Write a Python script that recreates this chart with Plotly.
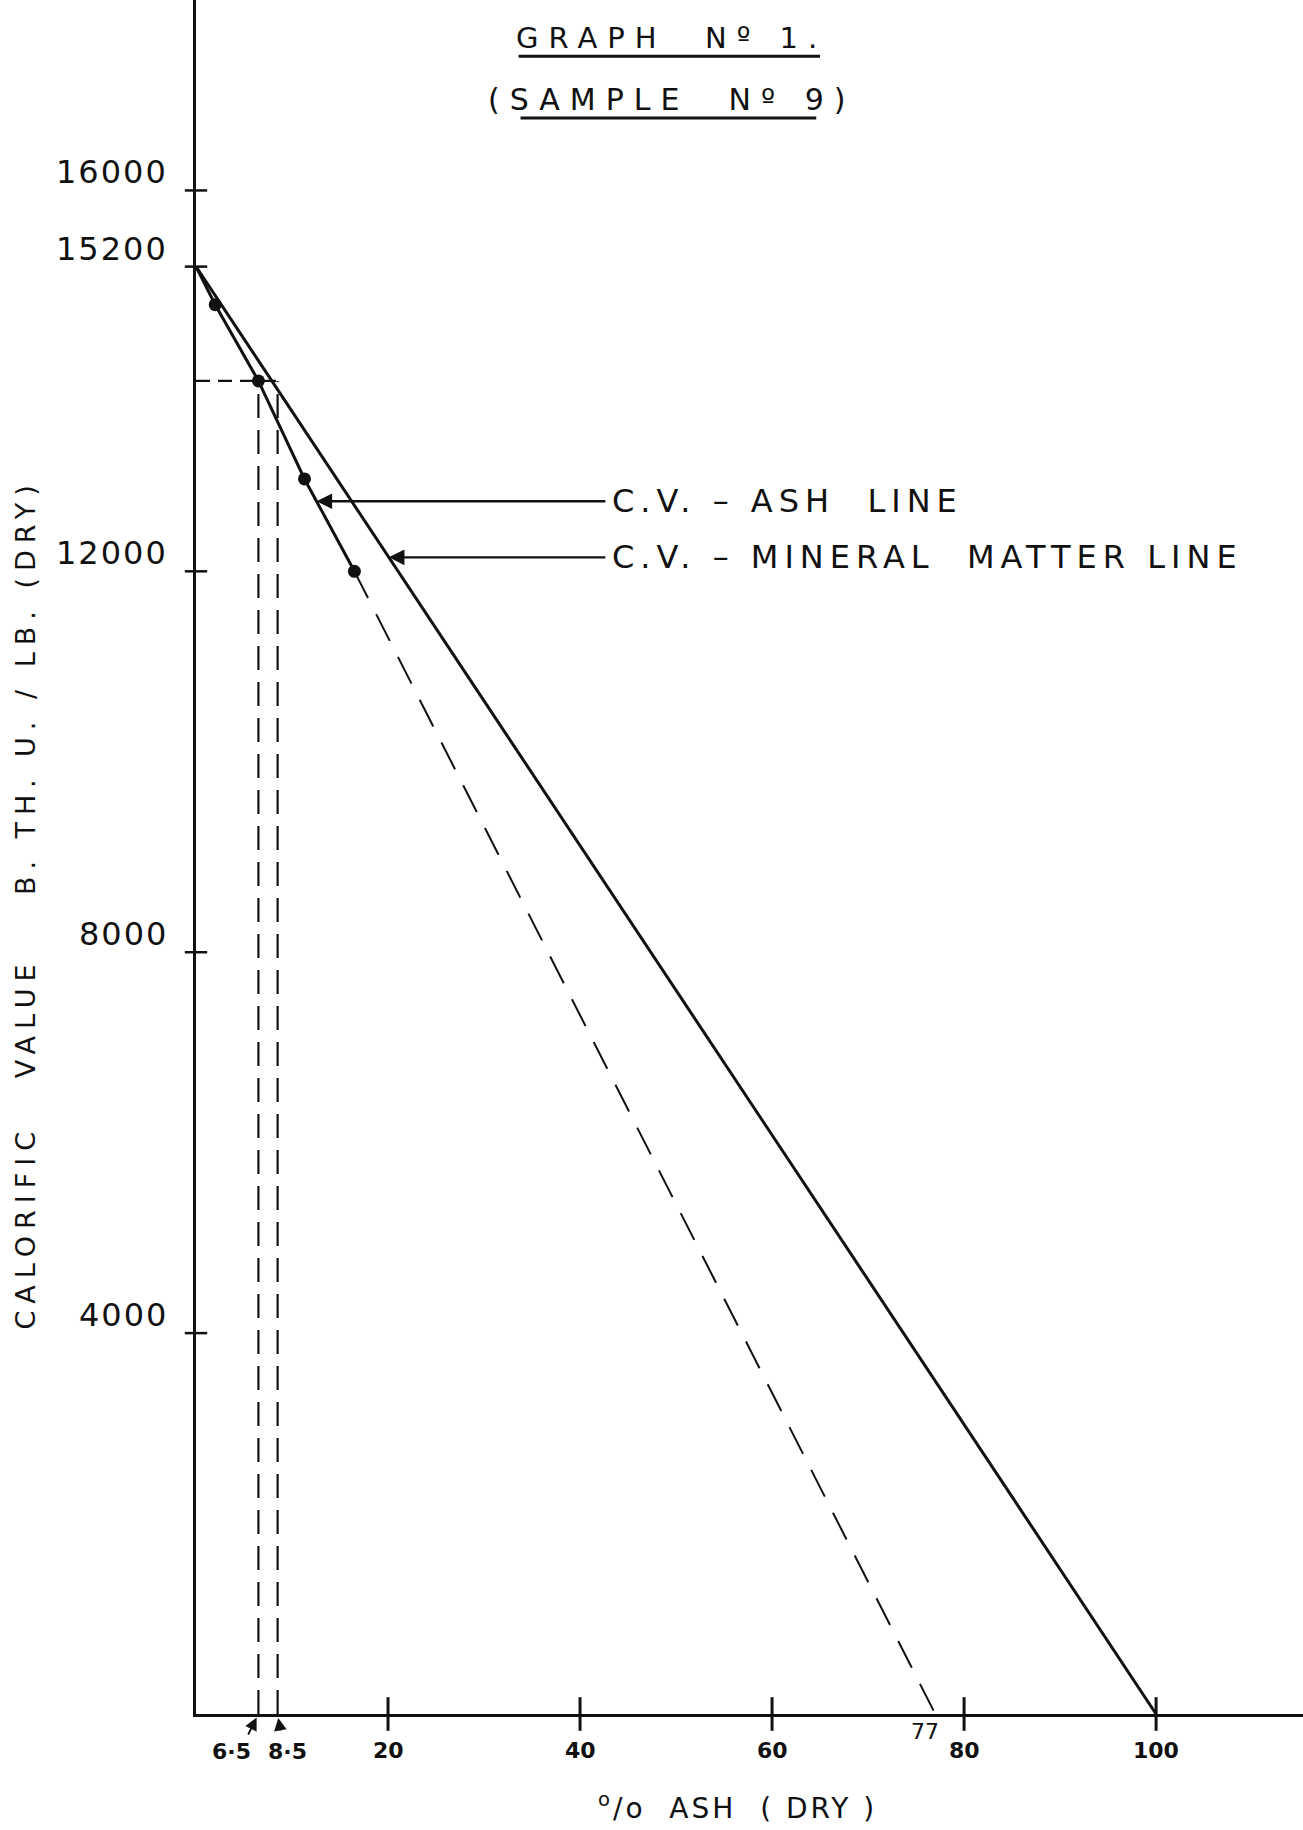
import numpy as np
import plotly.graph_objects as go

# ---- data ----
mineral_x = [0, 100]
mineral_y = [15200, 0]

ash_pts_x = [2.0, 6.5, 11.3, 16.5]
ash_pts_y = [14800, 14000, 12970, 12000]
ash_solid_x = [0] + ash_pts_x
ash_solid_y = [15200] + ash_pts_y
ash_ext_x = [16.5, 77]
ash_ext_y = [12000, 0]

sample_cv = 14000
sample_ash = [6.5, 8.5]

y_ticks = [4000, 8000, 12000, 15200, 16000]
y_tick_labels = ["4000", "8000", "12000", "15200", "16000"]
x_ticks = [20, 40, 60, 80, 100]
x_tick_labels = ["20", "40", "60", "80", "100"]
sample_tick_labels = ["6·5", "8·5"]

ash_label = "C.V. – ASH  LINE"
mineral_label = "C.V. – MINERAL  MATTER LINE"
ash_label_y = 12736
mineral_label_y = 12147

FONT = "DejaVu Sans"
INK = "#111111"


def spaced(t, ls):
    return f'<span style="letter-spacing:{ls}px">{t}</span>'


fig = go.Figure()

# C.V. - mineral matter line
fig.add_trace(go.Scatter(x=mineral_x, y=mineral_y, mode="lines",
                         line=dict(color=INK, width=3), showlegend=False))
# C.V. - ash line (solid through points)
fig.add_trace(go.Scatter(x=ash_solid_x, y=ash_solid_y, mode="lines",
                         line=dict(color=INK, width=3), showlegend=False))
fig.add_trace(go.Scatter(x=ash_pts_x, y=ash_pts_y, mode="markers",
                         marker=dict(color=INK, size=13), showlegend=False))
# dashed extrapolation
fig.add_trace(go.Scatter(x=ash_ext_x, y=ash_ext_y, mode="lines",
                         line=dict(color=INK, width=2, dash="30px,18px"),
                         showlegend=False))
# dashed horizontal at sample CV
fig.add_trace(go.Scatter(x=[0, max(sample_ash)], y=[sample_cv, sample_cv], mode="lines",
                         line=dict(color=INK, width=2.2, dash="14px,8px"), showlegend=False))
# dashed verticals
for a in sample_ash:
    fig.add_trace(go.Scatter(x=[a, a], y=[0, sample_cv], mode="lines",
                             line=dict(color=INK, width=2.2, dash="24px,12px"), showlegend=False))

# crossing tick marks
fig.add_trace(go.Scatter(x=[0] * len(y_ticks), y=y_ticks, mode="markers",
                         marker=dict(symbol="line-ew", size=16,
                                     line=dict(color=INK, width=2.5)),
                         cliponaxis=False, showlegend=False))
fig.add_trace(go.Scatter(x=x_ticks, y=[0] * len(x_ticks), mode="markers",
                         marker=dict(symbol="line-ns", size=24,
                                     line=dict(color=INK, width=3)),
                         cliponaxis=False, showlegend=False))

ann = []
# y tick labels
for v, t in zip(y_ticks, y_tick_labels):
    ann.append(dict(x=0, y=v, xref="x", yref="y", text=spaced(t, 2), showarrow=False,
                    xanchor="right", yanchor="middle", xshift=-26, yshift=18,
                    font=dict(family=FONT, size=32, color=INK)))
# x tick labels
for v, t in zip(x_ticks, x_tick_labels):
    ann.append(dict(x=v, y=0, xref="x", yref="y", text=f"<b>{t}</b>", showarrow=False,
                    xanchor="center", yanchor="middle", yshift=-36,
                    font=dict(family=FONT, size=22, color=INK)))
# sample ash labels with little arrows
for v, t, dx in zip(sample_ash, sample_tick_labels, [-27, 10]):
    ann.append(dict(x=v, y=0, xref="x", yref="y", text=f"<b>{t}</b>", showarrow=False,
                    xanchor="center", yanchor="middle", yshift=-37, xshift=dx,
                    font=dict(family=FONT, size=22, color=INK)))
for v, ax, ay in zip(sample_ash, [-11, 3], [22, 18]):
    ann.append(dict(x=v, y=0, xref="x", yref="y", text="", showarrow=True,
                    ax=ax, ay=ay, arrowhead=2, arrowsize=1.4, arrowwidth=1.8,
                    arrowcolor=INK, standoff=4))
# 77 label
ann.append(dict(x=ash_ext_x[-1], y=0, xref="x", yref="y", text="77", showarrow=False,
                xanchor="center", yanchor="middle", xshift=-10, yshift=-17,
                font=dict(family=FONT, size=22, color=INK)))

# legend labels with arrows
ash_tip = float(np.interp(ash_label_y, ash_solid_y[::-1], ash_solid_x[::-1]))
min_tip = float(np.interp(mineral_label_y, mineral_y[::-1], mineral_x[::-1]))
text_x = 42.8
for tip, yy, lab in [(ash_tip, ash_label_y, ash_label), (min_tip, mineral_label_y, mineral_label)]:
    ann.append(dict(x=tip, y=yy, xref="x", yref="y", ax=text_x, ay=yy,
                    axref="x", ayref="y", text="", showarrow=True, arrowhead=2,
                    arrowsize=1.3, arrowwidth=2.4, arrowcolor=INK, standoff=0))
    ann.append(dict(x=text_x, y=yy, xref="x", yref="y", text=spaced(lab, 6),
                    showarrow=False, xanchor="left", yanchor="middle", xshift=3,
                    font=dict(family=FONT, size=32, color=INK)))

# title lines
ann.append(dict(x=49.5, y=17600, xref="x", yref="y", text=spaced("GRAPH  Nº 1.", 10),
                showarrow=False, xanchor="center", yanchor="middle",
                font=dict(family=FONT, size=29, color=INK)))
ann.append(dict(x=49.5, y=16955, xref="x", yref="y", text=spaced("(SAMPLE  Nº 9)", 10),
                showarrow=False, xanchor="center", yanchor="middle",
                font=dict(family=FONT, size=30, color=INK)))

# axis titles
ann.append(dict(x=0, y=8500, xref="x", yref="y",
                text=spaced("CALORIFIC   VALUE    B. TH. U. / LB. (DRY)", 7),
                showarrow=False, textangle=-90, xanchor="center", yanchor="middle",
                xshift=-170, font=dict(family=FONT, size=27, color=INK)))
ann.append(dict(x=56.4, y=0, xref="x", yref="y",
                text=spaced("<sup>o</sup>/o  ASH  ( DRY )", 3),
                showarrow=False, xanchor="center", yanchor="middle", yshift=-92,
                font=dict(family=FONT, size=28, color=INK)))

shapes = [
    dict(type="line", xref="x", yref="y", x0=33.6, x1=65.0, y0=17410, y1=17410,
         line=dict(color=INK, width=3)),
    dict(type="line", xref="x", yref="y", x0=33.8, x1=64.6, y0=16760, y1=16760,
         line=dict(color=INK, width=3)),
]

fig.update_layout(
    width=1303, height=1830,
    margin=dict(l=196, r=0, t=0, b=116),
    paper_bgcolor="white", plot_bgcolor="white",
    annotations=ann, shapes=shapes, showlegend=False,
    xaxis=dict(range=[0, 115.3], showgrid=False, zeroline=False, showline=True,
               linecolor=INK, linewidth=3, showticklabels=False, ticks=""),
    yaxis=dict(range=[0, 18000], showgrid=False, zeroline=False, showline=True,
               linecolor=INK, linewidth=3, showticklabels=False, ticks=""),
)

fig.write_html("out.html", config={"displayModeBar": False},
               post_script="document.body.style.margin='0';document.body.style.overflow='hidden';")
